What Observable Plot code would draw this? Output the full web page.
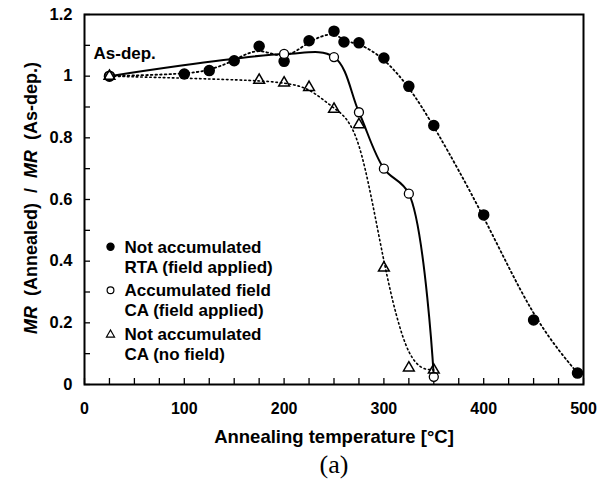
<!DOCTYPE html>
<html><head><meta charset="utf-8">
<script src="https://cdn.jsdelivr.net/npm/d3@7"></script>
<script src="https://cdn.jsdelivr.net/npm/@observablehq/plot@0.6"></script>
<style>
html,body{margin:0;padding:0;background:#fff;}
</style>
</head><body><div id="chart"></div>
<script>
// Not accumulated, RTA (field applied) — filled circles
const rtaTemp  = [25, 100, 125, 150, 175, 200, 225, 250, 260, 275, 300, 325, 350, 400, 450, 494];
const rtaRatio = [1.0, 1.007, 1.018, 1.05, 1.097, 1.048, 1.115, 1.146, 1.111, 1.108, 1.059, 0.967, 0.84, 0.55, 0.209, 0.037];
// Accumulated field, CA (field applied) — open circles
const accTemp  = [25, 200, 250, 275, 300, 325, 350];
const accRatio = [1.0, 1.072, 1.062, 0.883, 0.70, 0.619, 0.025];
// Not accumulated, CA (no field) — open triangles
const caTemp   = [25, 175, 200, 225, 250, 275, 300, 325, 350];
const caRatio  = [1.0, 0.987, 0.978, 0.964, 0.893, 0.843, 0.378, 0.054, 0.047];

const xMajor = [0, 100, 200, 300, 400, 500];
const xMinor = [0, 25, 50, 75, 100, 125, 150, 175, 200, 225, 250, 275, 300, 325, 350, 375, 400, 425, 450, 475, 500];
const yMajor = [0, 0.2, 0.4, 0.6, 0.8, 1, 1.2];
const yMinor = [0, 0.1, 0.2, 0.3, 0.4, 0.5, 0.6, 0.7, 0.8, 0.9, 1, 1.1, 1.2];

const legendLabels = ["Not accumulated\nRTA (field applied)", "Accumulated field\nCA (field applied)", "Not accumulated\nCA (no field)"];
const xTitle = "Annealing temperature [°C]";
const yTitle = "MR  (Annealed)  /  MR  (As-dep.)";
const asDepLabel = "As-dep.";
const caption = "(a)";

const rta = rtaTemp.map((t, i) => ({t, v: rtaRatio[i]}));
const acc = accTemp.map((t, i) => ({t, v: accRatio[i]}));
const ca  = caTemp.map((t, i) => ({t, v: caRatio[i]}));

const sans = "'Liberation Sans', Arial, Helvetica, sans-serif";
const legendStyles = [
  {symbol: "circle", fill: "black", stroke: "black", r: 3.6},
  {symbol: "circle", fill: "white", stroke: "black", r: 3.4},
  {symbol: "triangle", fill: "white", stroke: "black", r: 3.0}
];

const legendMarks = [];
legendLabels.forEach((lab, i) => {
  const cy = 256 - 14 + i * 43.5;
  legendMarks.push(Plot.dot([lab], {frameAnchor: "top-left", dx: 26, dy: cy - 9.8 + (i === 2 ? 1 : 0), r: legendStyles[i].r, symbol: legendStyles[i].symbol, fill: legendStyles[i].fill, stroke: legendStyles[i].stroke, strokeWidth: 1.2}));
  legendMarks.push(Plot.text([lab], {frameAnchor: "top-left", dx: 40, dy: cy, text: d => d, textAnchor: "start", lineAnchor: "middle", lineHeight: 1.18, fontSize: 17, fontWeight: "bold", fill: "black"}));
});

const chart = Plot.plot({
  width: 607, height: 487,
  marginLeft: 84, marginRight: 24, marginTop: 14, marginBottom: 103,
  style: {fontFamily: sans, background: "white", color: "black", overflow: "visible"},
  x: {domain: [0, 500]},
  y: {domain: [0, 1.2]},
  marks: [
    Plot.frame({stroke: "black", strokeWidth: 2}),
    Plot.axisX(xMinor, {tickSize: -6, strokeWidth: 1.3, text: null, label: null}),
    Plot.axisX(xMajor, {tickSize: 0, tickPadding: 18, tickFormat: d => String(d), label: null, fontSize: 16, fontWeight: "bold"}),
    Plot.axisY(yMinor, {tickSize: -6, strokeWidth: 1.3, text: null, label: null}),
    Plot.axisY(yMajor, {tickSize: 0, tickPadding: 12, tickFormat: d => String(d), label: null, fontSize: 16.5, fontWeight: "bold"}),
    Plot.line(rta, {x: "t", y: "v", curve: "basis", stroke: "black", strokeWidth: 1.8, strokeDasharray: "1.6,3"}),
    Plot.line(ca, {x: "t", y: "v", curve: "basis", stroke: "black", strokeWidth: 1.6, strokeDasharray: "1.5,3"}),
    Plot.line(acc, {x: "t", y: "v", curve: "catmull-rom", stroke: "black", strokeWidth: 2}),
    Plot.dot(rta, {x: "t", y: "v", r: 5, fill: "black", stroke: "black"}),
    Plot.dot(acc, {x: "t", y: "v", r: 4.5, fill: "white", stroke: "black", strokeWidth: 1.3}),
    Plot.dot(ca, {x: "t", y: "v", r: 4, symbol: "triangle", fill: "none", stroke: "black", strokeWidth: 1.5}),
    Plot.text([asDepLabel], {frameAnchor: "top-left", dx: 9, dy: 39, text: d => d, textAnchor: "start", lineAnchor: "middle", fontSize: 17, fontWeight: "bold", fill: "black"}),
    ...legendMarks,
    Plot.text([xTitle], {frameAnchor: "bottom", dy: 53, text: d => d, textAnchor: "middle", lineAnchor: "middle", fontSize: 18.5, fontWeight: "bold", fill: "black"}),
    Plot.text([yTitle], {frameAnchor: "left", dx: -53, dy: -1.5, rotate: -90, text: d => d, textAnchor: "middle", lineAnchor: "middle", fontSize: 18, fontWeight: "bold", fill: "black"}),
    Plot.text([caption], {frameAnchor: "bottom", dy: 80, text: d => d, textAnchor: "middle", lineAnchor: "middle", fontSize: 26, fontFamily: "'Liberation Serif', 'Times New Roman', serif", fontWeight: "normal", fill: "black"})
  ]
});

// italic "MR" in the y-axis title
d3.select(chart).selectAll("text").filter(function() { return this.textContent === yTitle; }).each(function() {
  const t = d3.select(this);
  t.text(null);
  const parts = [["MR", true], ["  (Annealed)  /  ", false], ["MR", true], ["  (As-dep.)", false]];
  parts.forEach(([s, it]) => t.append("tspan").attr("font-style", it ? "italic" : null).style("white-space", "pre").text(s));
  t.attr("text-anchor", "middle").style("white-space", "pre");
});

document.getElementById("chart").appendChild(chart);
</script>
</body></html>
